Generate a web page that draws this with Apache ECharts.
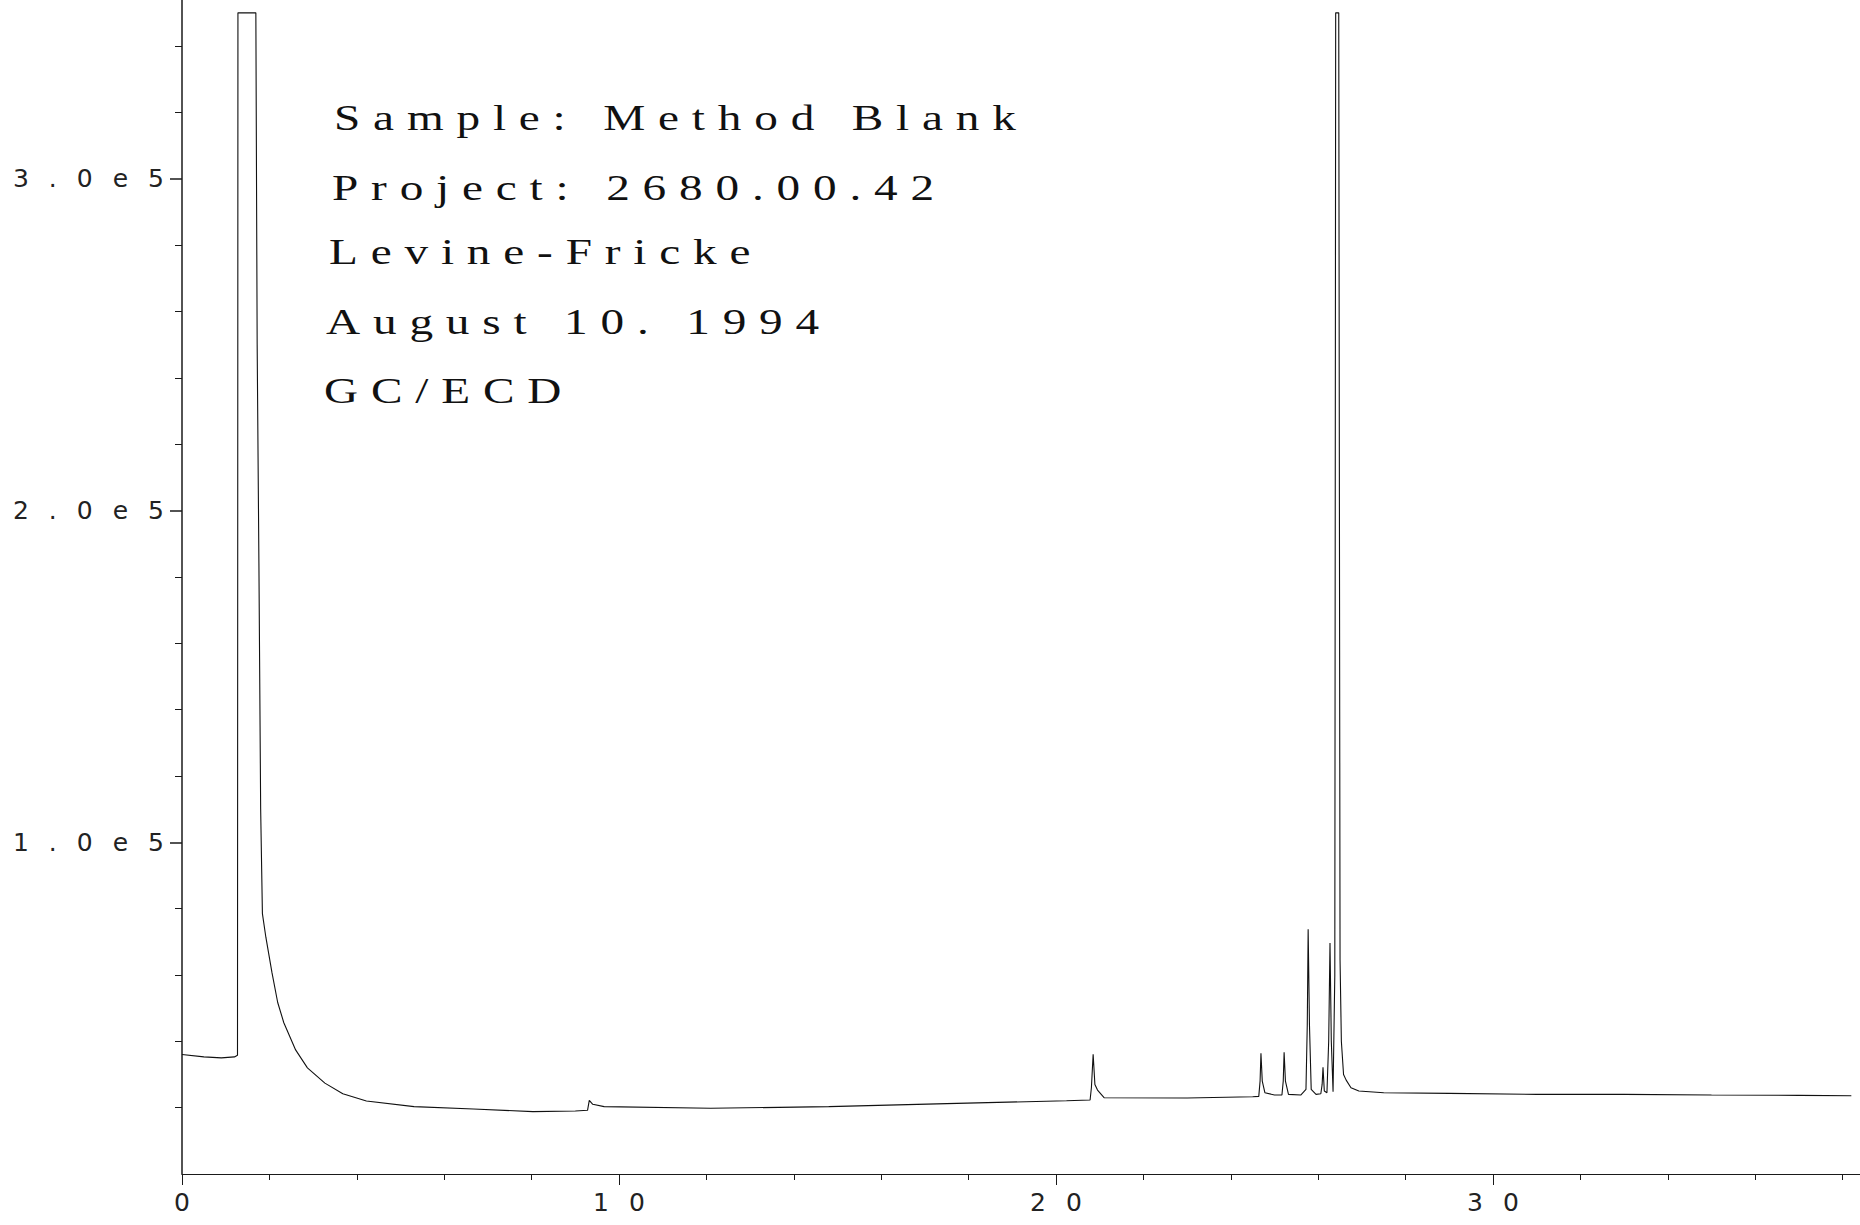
<!DOCTYPE html>
<html>
<head>
<meta charset="utf-8">
<script src="https://cdn.jsdelivr.net/npm/echarts@6/dist/echarts.min.js"></script>
<style>
html, body { margin: 0; padding: 0; background: #ffffff; }
#chart { width: 1860px; height: 1225px; }
#chart text { letter-spacing: 20px; }
#chart text[style*="Serif"] { letter-spacing: 9.5px; }
</style>
</head>
<body>
<div id="chart"></div>
<script>
// Retention time (min)
const time = [
  0, 0.5, 0.9, 1.2, 1.27, 1.28, 1.69, 1.72, 1.76, 1.80,
  1.84, 1.92, 2.06, 2.19, 2.33, 2.60, 2.87, 3.27, 3.68, 4.22,
  5.31, 6.67, 8.03, 9.00, 9.28, 9.32, 9.40, 9.66, 12.10, 14.80,
  17.50, 20.24, 20.78, 20.81, 20.85, 20.89, 20.95, 21.10, 23.00, 24.50,
  24.64, 24.67, 24.69, 24.72, 24.78, 25.00, 25.17, 25.20, 25.22, 25.25,
  25.32, 25.60, 25.72, 25.75, 25.77, 25.80, 25.84, 25.95, 26.06, 26.09,
  26.11, 26.14, 26.20, 26.24, 26.27, 26.30, 26.34, 26.38, 26.40, 26.47,
  26.50, 26.53, 26.58, 26.64, 26.75, 26.93, 27.5, 29, 31, 33,
  35, 37, 38.2
];
// Detector response
const signal = [
  36000, 35300, 35000, 35300, 35800, 350000, 350000, 250000, 184000, 110000,
  78500, 71300, 60600, 51700, 45600, 37400, 32000, 27400, 24200, 22000,
  20300, 19600, 18800, 19000, 19200, 22200, 21000, 20300, 19800, 20300,
  21200, 22100, 22300, 26000, 36100, 27000, 25300, 23000, 22900, 23300,
  23400, 28000, 36400, 28000, 24500, 23800, 23800, 28000, 36700, 28000,
  24000, 23800, 25500, 45000, 73800, 45000, 25500, 24000, 24200, 27000,
  32200, 25000, 24500, 40000, 69600, 40000, 24800, 60000, 350000, 350000,
  64500, 40000, 30000, 28300, 26000, 25000, 24500, 24300, 24000, 24000,
  23800, 23700, 23600
];

const yTickValues = [100000, 200000, 300000];
const yTickLabels = ['1.0e5', '2.0e5', '3.0e5'];
const xTickValues = [0, 10, 20, 30];
const xTickLabels = ['0', '10', '20', '30'];

const annotations = [
  'Sample: Method Blank',
  'Project: 2680.00.42',
  'Levine-Fricke',
  'August 10. 1994',
  'GC/ECD'
];
// layout only: [left, vertical centre] of each annotation line
const annotationLayout = [[334, 118], [332, 188], [329, 252], [326, 322], [324, 391]];

const points = time.map((t, i) => [t, signal[i]]);

const chart = echarts.init(document.getElementById('chart'), null, { renderer: 'svg' });

const axisColor = '#1a1a1a';

chart.setOption({
  animation: false,
  backgroundColor: '#ffffff',
  grid: {
    left: 182, top: -153, width: 1748, height: 1327,
    containLabel: false,
    outerBoundsMode: 'none'
  },
  xAxis: {
    type: 'value',
    min: 0,
    max: 40,
    interval: 10,
    axisLine: { show: true, lineStyle: { color: axisColor, width: 1 } },
    axisTick: { show: true, length: 11, customValues: xTickValues, lineStyle: { color: axisColor, width: 1 } },
    minorTick: { show: true, splitNumber: 5, length: 6, lineStyle: { color: axisColor, width: 1 } },
    splitLine: { show: false },
    minorSplitLine: { show: false },
    axisLabel: {
      customValues: xTickValues,
      margin: 16,
      fontFamily: 'DejaVu Sans',
      fontSize: 25,
      color: '#222',
      padding: [0, 0, 0, 20],
      formatter: function (v) {
        const i = xTickValues.indexOf(v);
        return i >= 0 ? xTickLabels[i] : '';
      }
    }
  },
  yAxis: {
    type: 'value',
    min: 0,
    max: 400000,
    interval: 100000,
    axisLine: { show: true, lineStyle: { color: axisColor, width: 1.5 } },
    axisTick: { show: true, length: 12, customValues: yTickValues, lineStyle: { color: axisColor, width: 1.5 } },
    minorTick: { show: true, splitNumber: 5, length: 7, lineStyle: { color: axisColor, width: 1 } },
    splitLine: { show: false },
    minorSplitLine: { show: false },
    axisLabel: {
      customValues: yTickValues,
      margin: -2,
      fontFamily: 'DejaVu Sans',
      fontSize: 25,
      color: '#222',
      formatter: function (v) {
        const i = yTickValues.indexOf(v);
        return i >= 0 ? yTickLabels[i] : '';
      }
    }
  },
  series: [{
    type: 'line',
    data: points,
    showSymbol: false,
    symbol: 'none',
    clip: true,
    lineStyle: { color: '#111', width: 1.1 },
    silent: true
  }],
  graphic: annotations.map((txt, i) => ({
    type: 'text',
    x: annotationLayout[i][0],
    y: annotationLayout[i][1],
    scaleX: 1.35,
    silent: true,
    style: {
      text: txt,
      fontFamily: 'Liberation Serif',
      fontSize: 35,
      fill: '#111',
      align: 'left',
      verticalAlign: 'middle',
      textAlign: 'left',
      textVerticalAlign: 'middle'
    }
  }))
});
</script>
</body>
</html>
